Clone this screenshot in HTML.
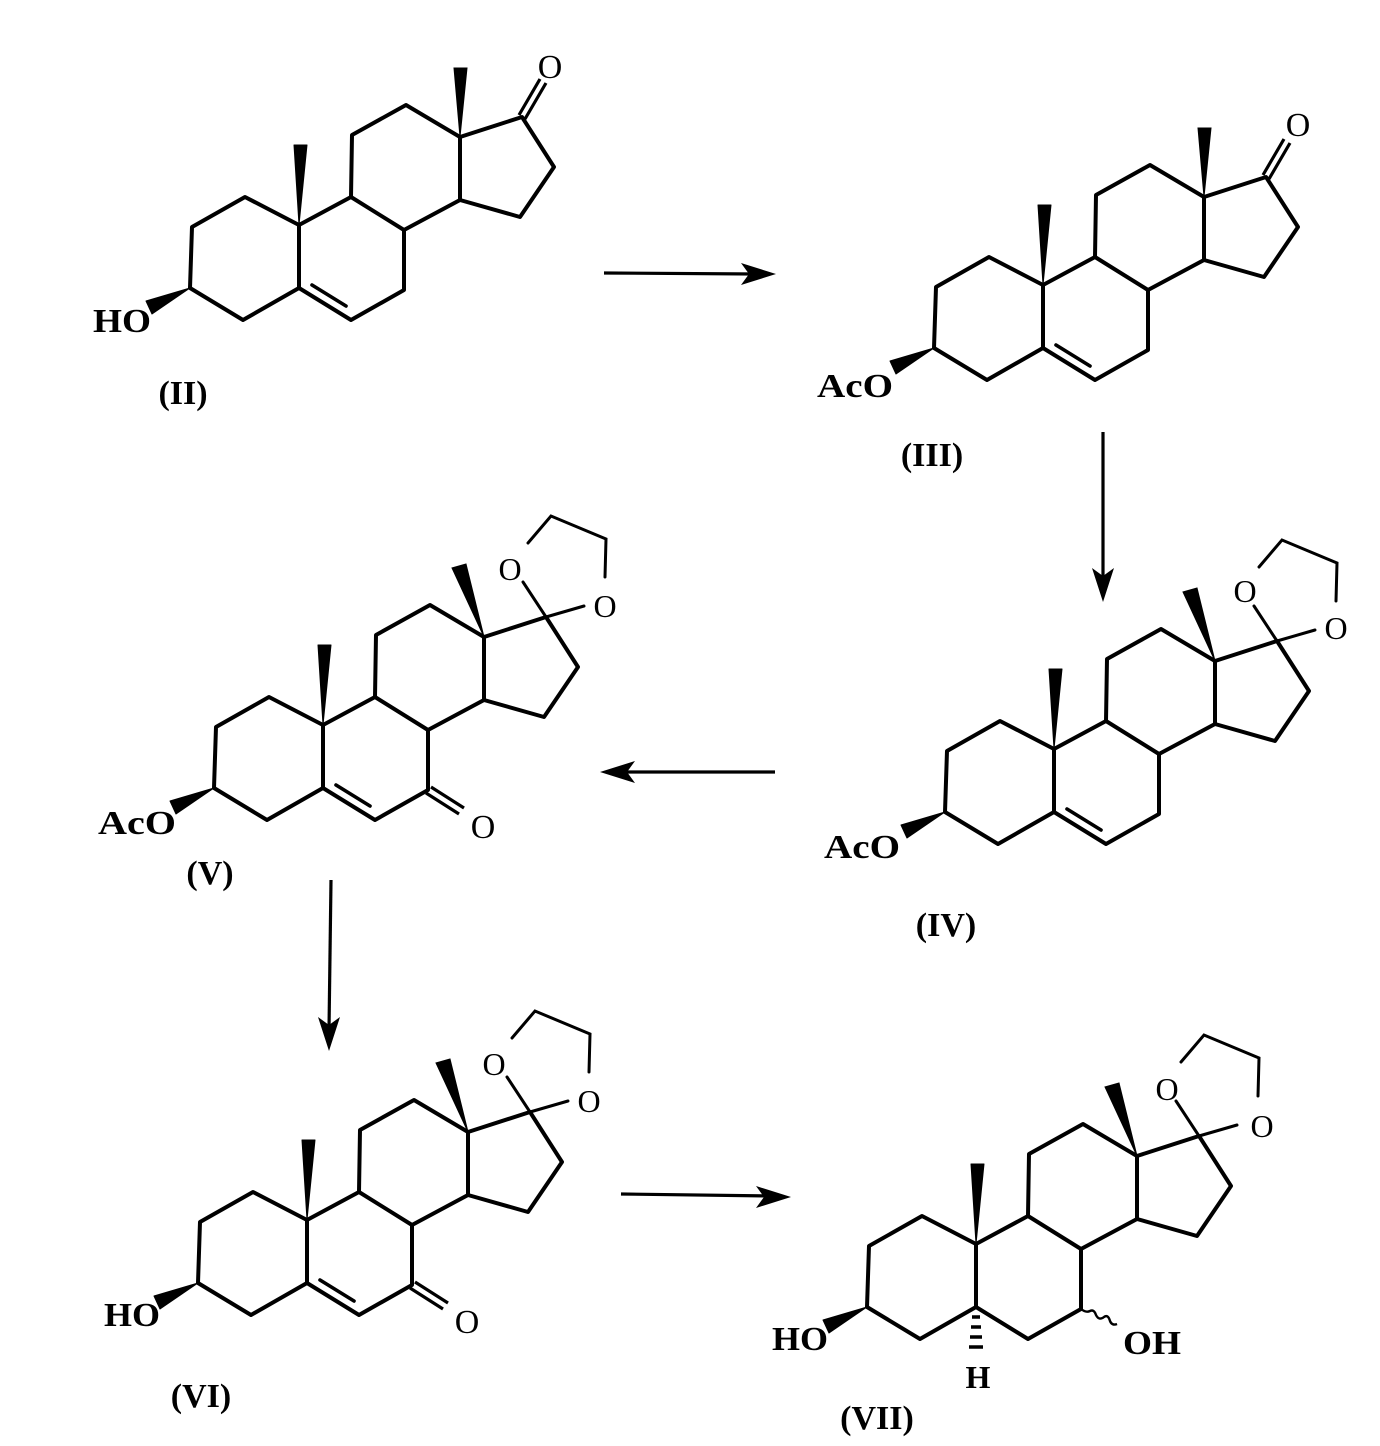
<!DOCTYPE html>
<html><head><meta charset="utf-8"><style>
html,body{margin:0;padding:0;background:#fff}
svg{display:block}
text{font-family:"Liberation Serif",serif;fill:#000}
</style></head><body>
<svg width="1380" height="1446" viewBox="0 0 1380 1446" xmlns="http://www.w3.org/2000/svg">
<defs>
<g id="core" fill="none" stroke="#000" stroke-width="4" stroke-linejoin="round" stroke-linecap="round">
<path d="M0,0 L2,-61 L55,-91 L109,-63 L109,0 L53,32 Z"/>
<path d="M109,0 L161,32 L214,2 L214,-58 L161,-91 L109,-63"/>
<path d="M161,-91 L162,-153 L216,-183 L270,-151 L270,-88 L214,-58"/>
<path d="M270,-151 L332,-171 L364,-121 L330,-71 L270,-88"/>
<polygon points="109,-63 104,-143 117,-143" fill="#000" stroke-width="1"/>
<polygon points="0,0 -44,13 -38,26" fill="#000" stroke-width="1"/>
</g>
<path id="db56" d="M122,-3 L156,18" fill="none" stroke="#000" stroke-width="3.6" stroke-linecap="round"/>
<g id="keto17" fill="none" stroke="#000" stroke-width="3.2">
<polygon points="270,-151 264,-220 277,-220" fill="#000" stroke-width="1"/>
<path d="M329,-173 L350,-209 M335,-169 L356,-205"/>
</g>
<g id="diox" fill="none" stroke="#000" stroke-width="3" stroke-linecap="round">
<polygon points="270,-151 238,-220 252,-224" fill="#000" stroke-width="1"/>
<path d="M332,-171 L309,-206 M314,-245 L337,-272 L392,-249 L391,-211 M370,-182 L332,-171"/>
</g>
<g id="keto7" fill="none" stroke="#000" stroke-width="3.2">
<path d="M212,5 L245,26 M217,-1 L250,20"/>
</g>
</defs>

<g transform="translate(190,288)">
<use href="#core"/><use href="#db56"/><use href="#keto17"/>
</g>
<text x="550" y="78" font-size="34" text-anchor="middle">O</text>
<text x="122" y="332" font-size="34" font-weight="bold" text-anchor="middle" textLength="58" lengthAdjust="spacingAndGlyphs">HO</text>
<text x="183" y="404" font-size="34" font-weight="bold" text-anchor="middle">(II)</text>

<g transform="translate(934,348)">
<use href="#core"/><use href="#db56"/><use href="#keto17"/>
</g>
<text x="1298" y="136" font-size="34" text-anchor="middle">O</text>
<text x="855" y="397" font-size="34" font-weight="bold" text-anchor="middle" textLength="76" lengthAdjust="spacingAndGlyphs">AcO</text>
<text x="932" y="466" font-size="34" font-weight="bold" text-anchor="middle">(III)</text>

<g transform="translate(945,812)">
<use href="#core"/><use href="#db56"/><use href="#diox"/>
</g>
<text x="1245" y="602" font-size="32" text-anchor="middle">O</text>
<text x="1336" y="639" font-size="32" text-anchor="middle">O</text>
<text x="862" y="858" font-size="34" font-weight="bold" text-anchor="middle" textLength="76" lengthAdjust="spacingAndGlyphs">AcO</text>
<text x="946" y="936" font-size="34" font-weight="bold" text-anchor="middle">(IV)</text>

<g transform="translate(214,788)">
<use href="#core"/><use href="#db56"/><use href="#diox"/><use href="#keto7"/>
</g>
<text x="510" y="580" font-size="32" text-anchor="middle">O</text>
<text x="605" y="617" font-size="32" text-anchor="middle">O</text>
<text x="483" y="838" font-size="34" text-anchor="middle">O</text>
<text x="137" y="834" font-size="34" font-weight="bold" text-anchor="middle" textLength="78" lengthAdjust="spacingAndGlyphs">AcO</text>
<text x="210" y="884" font-size="34" font-weight="bold" text-anchor="middle">(V)</text>

<g transform="translate(198,1283)">
<use href="#core"/><use href="#db56"/><use href="#diox"/><use href="#keto7"/>
</g>
<text x="494" y="1075" font-size="32" text-anchor="middle">O</text>
<text x="589" y="1112" font-size="32" text-anchor="middle">O</text>
<text x="467" y="1333" font-size="34" text-anchor="middle">O</text>
<text x="132" y="1326" font-size="34" font-weight="bold" text-anchor="middle" textLength="56" lengthAdjust="spacingAndGlyphs">HO</text>
<text x="201" y="1407" font-size="34" font-weight="bold" text-anchor="middle">(VI)</text>

<g transform="translate(867,1307)">
<use href="#core"/><use href="#diox"/>
<g stroke="#000" stroke-width="3.4" fill="none">
<path d="M105,10 L113,10 M104,20 L114,20 M103,30 L115,30 M102,40 L116,40"/>
<path d="M214,2 q5,4 9,2 q4,-2 6,4 q3,6 8,2 q4,-3 6,4 q2,5 7,3" stroke-width="2.4"/>
</g>
</g>
<text x="1167" y="1100" font-size="32" text-anchor="middle">O</text>
<text x="1262" y="1137" font-size="32" text-anchor="middle">O</text>
<text x="978" y="1388" font-size="32" font-weight="bold" text-anchor="middle">H</text>
<text x="1152" y="1354" font-size="34" font-weight="bold" text-anchor="middle" textLength="58" lengthAdjust="spacingAndGlyphs">OH</text>
<text x="800" y="1350" font-size="34" font-weight="bold" text-anchor="middle" textLength="56" lengthAdjust="spacingAndGlyphs">HO</text>
<text x="877" y="1429" font-size="34" font-weight="bold" text-anchor="middle">(VII)</text>

<g stroke="#000" stroke-width="3.2" fill="none">
<path d="M604,273 L755,274"/>
<path d="M1103,432 L1103,580"/>
<path d="M775,772 L620,772"/>
<path d="M331,880 L329,1030"/>
<path d="M621,1194 L770,1196"/>
</g>
<g fill="#000">
<path d="M776,274 L741,263 L749,274 L741,285 Z"/>
<path d="M1103,602 L1092,568 L1103,576 L1114,568 Z"/>
<path d="M600,772 L635,761 L627,772 L635,783 Z"/>
<path d="M329,1051 L318,1017 L329,1025 L340,1017 Z"/>
<path d="M791,1197 L756,1186 L764,1197 L756,1208 Z"/>
</g>
</svg>
</body></html>
